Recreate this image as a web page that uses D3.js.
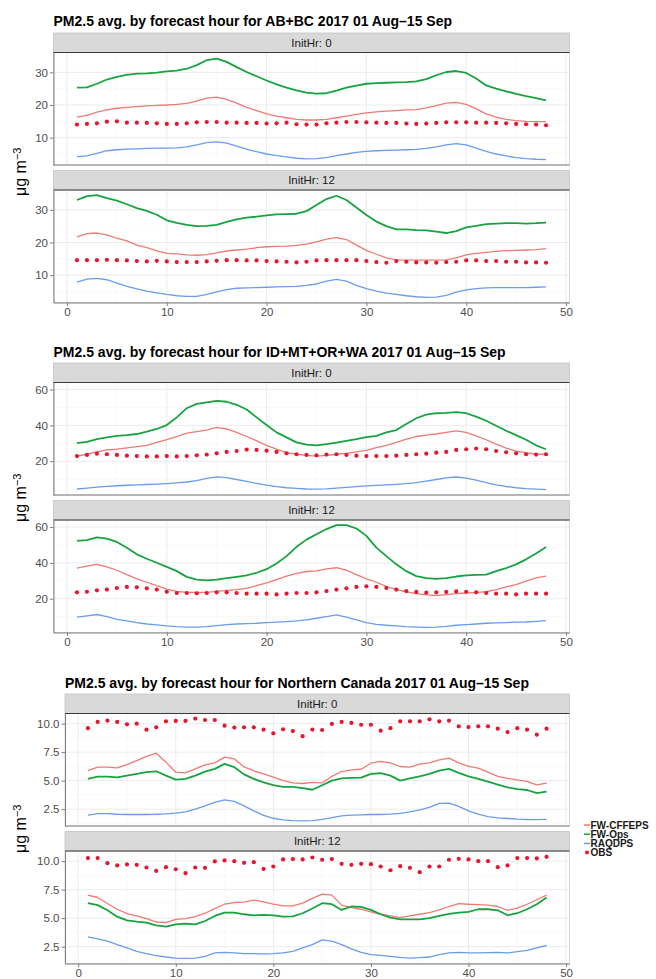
<!DOCTYPE html>
<html>
<head>
<meta charset="utf-8">
<script src="https://cdn.jsdelivr.net/npm/d3@7"></script>
<style>
body { margin: 0; background: #fff; }
svg { font-family: "Liberation Sans", Arial, sans-serif; }
.grid-major { stroke: #ebebeb; stroke-width: 1; }
.grid-minor { stroke: #f5f5f5; stroke-width: 0.6; }
.tick text { fill: #4d4d4d; font-size: 11.5px; }
.tick line { stroke: #7f7f7f; }
.domain { stroke: #7f7f7f; }
</style>
</head>
<body>
<svg id="chart" width="656" height="979"></svg>
<script>
var HOURS = [1,2,3,4,5,6,7,8,9,10,11,12,13,14,15,16,17,18,19,20,21,22,23,24,
             25,26,27,28,29,30,31,32,33,34,35,36,37,38,39,40,41,42,43,44,45,46,47,48];
var SERIES = ["FW-CFFEPS", "FW-Ops", "RAQDPS", "OBS"];
var COLORS = ["#f07a72", "#16a33f", "#6a9cee", "#e5162f"];
var FACET_LABELS = ["InitHr: 0", "InitHr: 12"];
var X_TICKS = [0, 10, 20, 30, 40, 50];

// AB+BC
var abbc0Cffeps = [16.3,16.8,17.8,18.5,19.0,19.3,19.5,19.7,19.9,20.0,20.2,20.5,21.2,22.1,22.4,21.7,20.6,19.3,18.3,17.3,16.6,16.1,15.6,15.4,15.4,15.6,16.1,16.6,17.1,17.6,17.9,18.1,18.3,18.5,18.6,19.1,19.8,20.6,20.8,20.2,18.8,17.3,16.3,15.6,15.2,15.0,14.9,14.9];
var abbc0Ops = [25.3,25.4,26.5,27.8,28.6,29.2,29.6,29.7,29.9,30.3,30.5,31.1,32.2,33.7,34.2,33.2,31.6,30.1,28.8,27.5,26.3,25.3,24.5,23.8,23.5,23.6,24.4,25.3,25.9,26.5,26.7,26.8,26.9,27.0,27.2,27.9,29.1,30.1,30.4,29.8,28.1,26.0,25.0,24.2,23.4,22.7,22.1,21.4];
var abbc0Raqdps = [4.2,4.4,5.2,6.0,6.3,6.5,6.6,6.7,6.8,6.8,6.9,7.2,7.8,8.5,8.7,8.3,7.4,6.5,5.7,5.0,4.5,4.1,3.7,3.5,3.6,3.9,4.5,5.0,5.5,5.8,6.0,6.1,6.2,6.3,6.4,6.7,7.2,7.8,8.2,7.8,6.8,5.8,5.0,4.4,3.9,3.6,3.4,3.3];
var abbc0Obs = [14.0,14.2,14.4,14.9,15.0,14.6,14.6,14.5,14.4,14.2,14.2,14.4,14.7,14.8,14.8,14.6,14.6,14.5,14.5,14.3,14.4,14.6,14.1,14.0,14.0,14.4,14.6,14.8,14.8,14.7,14.6,14.5,14.5,14.3,14.2,14.3,14.5,14.7,14.7,14.7,14.6,14.6,14.5,14.4,14.2,14.1,14.0,13.8];
var abbc12Cffeps = [21.7,22.7,22.9,22.3,21.3,20.5,19.2,18.4,17.4,16.7,16.5,16.2,16.1,16.3,16.8,17.4,17.7,18.0,18.4,18.7,18.8,18.9,19.1,19.5,20.2,21.0,21.5,20.9,19.2,17.6,16.4,15.3,14.7,14.6,14.6,14.6,14.6,14.7,15.3,16.2,16.7,17.0,17.3,17.5,17.6,17.7,17.8,18.1];
var abbc12Ops = [33.0,34.2,34.5,33.6,32.8,31.7,30.5,29.7,28.5,26.8,26.0,25.4,25.0,25.1,25.4,26.3,27.1,27.6,27.9,28.3,28.6,28.7,28.8,29.6,31.5,33.3,34.3,33.0,30.7,28.4,26.4,25.0,24.0,24.0,23.8,23.7,23.3,22.9,23.5,24.6,25.1,25.6,25.8,25.9,25.9,25.8,25.9,26.1];
var abbc12Raqdps = [7.9,8.8,9.0,8.6,7.6,6.6,5.8,5.1,4.6,4.1,3.7,3.5,3.5,4.1,4.9,5.6,6.0,6.1,6.2,6.3,6.4,6.5,6.6,6.9,7.3,8.2,8.7,8.2,6.9,5.9,5.1,4.5,4.1,3.7,3.4,3.2,3.3,3.8,4.8,5.5,5.9,6.1,6.2,6.2,6.2,6.2,6.3,6.4];
var abbc12Obs = [14.6,14.6,14.6,14.7,14.6,14.5,14.3,14.2,14.4,14.2,14.0,14.0,14.0,14.2,14.4,14.6,14.6,14.5,14.5,14.3,14.2,14.1,13.9,14.1,14.5,14.6,14.6,14.6,14.6,14.3,14.0,13.8,14.3,14.1,13.9,13.9,13.8,14.0,14.1,14.5,14.5,14.3,14.3,14.1,14.1,13.9,13.9,13.8];

// ID+MT+OR+WA
var usa0Cffeps = [22.9,23.9,25.2,26.3,26.7,27.4,28.2,28.9,30.5,32.0,33.8,35.7,36.5,37.4,38.9,38.0,36.1,33.8,31.4,28.9,26.7,24.8,23.9,23.3,22.9,23.3,23.9,24.4,25.2,26.1,27.6,28.9,30.5,32.3,33.8,34.6,35.2,36.1,36.9,36.1,34.2,32.0,29.5,27.3,25.7,24.8,23.9,23.9];
var usa0Ops = [30.1,30.8,32.3,33.3,34.2,34.6,35.2,36.5,38.0,40.2,44.5,49.6,52.0,52.8,53.7,53.2,51.5,48.9,44.5,40.2,36.1,33.3,30.5,29.3,28.9,29.5,30.4,31.4,32.3,33.5,34.2,36.1,37.4,40.8,44.0,46.0,46.8,47.0,47.4,46.8,44.9,42.6,39.8,37.0,34.6,32.0,28.9,26.7];
var usa0Raqdps = [4.5,5.0,5.5,6.0,6.3,6.6,6.8,7.0,7.2,7.5,7.9,8.4,9.2,10.4,11.3,10.8,9.8,8.7,7.6,6.6,5.8,5.2,4.8,4.5,4.4,4.6,5.0,5.4,5.8,6.2,6.5,6.8,7.1,7.5,8.1,8.9,9.8,10.7,11.2,10.6,9.4,8.0,6.8,5.9,5.2,4.7,4.4,4.2];
var usa0Obs = [22.9,23.5,24.2,23.9,23.5,23.1,22.9,22.7,22.7,22.9,22.7,22.9,23.3,23.7,24.4,25.2,25.7,26.5,26.3,25.9,25.2,24.4,23.9,23.5,23.3,23.7,23.9,23.5,23.1,22.9,22.9,22.9,23.1,23.5,23.9,24.2,24.8,25.2,26.3,26.7,27.1,26.7,25.7,25.0,24.4,23.9,23.7,23.9];
var usa12Cffeps = [37.1,38.2,39.2,37.8,35.9,33.5,31.1,29.2,27.3,25.4,24.1,23.6,23.6,23.6,24.1,24.7,25.1,25.8,27.3,28.8,30.7,32.6,34.1,35.2,35.6,36.7,37.3,35.9,33.5,31.1,29.2,26.9,25.1,23.9,22.8,22.1,21.7,22.3,22.8,23.2,23.6,23.9,25.1,26.6,27.9,29.8,31.6,32.6];
var usa12Ops = [52.3,52.7,54.2,53.6,51.7,48.5,44.8,42.3,40.1,37.8,35.4,32.2,30.7,30.3,30.7,31.5,32.2,33.0,34.5,36.5,39.7,43.8,49.0,53.0,56.0,58.9,61.1,61.1,59.2,55.1,48.5,43.8,39.2,35.4,32.6,31.5,31.1,31.5,32.4,33.0,33.3,33.5,35.4,37.1,39.2,42.0,45.3,48.9];
var usa12Raqdps = [9.7,10.4,11.2,10.0,8.5,7.6,6.7,5.9,5.4,4.8,4.4,4.2,4.2,4.4,5.0,5.5,5.9,6.1,6.3,6.7,6.9,7.2,7.6,8.2,9.1,10.0,11.0,9.7,8.2,6.7,5.7,5.2,4.8,4.4,4.2,4.0,4.2,4.6,5.2,5.5,5.9,6.3,6.5,6.7,6.9,7.0,7.4,7.8];
var usa12Obs = [23.6,23.9,24.7,25.1,26.0,26.6,26.4,25.8,25.1,23.9,23.2,23.2,23.0,23.2,23.6,23.6,23.2,22.8,22.8,22.8,22.4,22.8,23.2,23.2,23.6,24.3,25.1,25.8,26.6,26.9,26.6,26.0,25.1,24.3,23.8,23.4,23.6,23.8,24.1,23.9,23.6,23.2,22.8,22.8,22.4,22.8,22.8,22.8];

// Northern Canada
var north0Cffeps = [5.88,6.18,6.18,6.12,6.41,6.76,7.12,7.41,6.62,5.74,5.68,6.03,6.38,6.56,7.06,6.91,6.2,5.85,5.6,5.3,5.0,4.8,4.75,4.85,4.8,5.38,5.8,5.94,6.0,6.53,6.68,6.56,6.24,6.18,6.44,6.56,6.82,6.97,6.56,6.26,6.09,5.74,5.38,5.2,5.06,4.94,4.62,4.79];
var north0Ops = [5.15,5.35,5.35,5.29,5.44,5.59,5.74,5.82,5.44,5.09,5.15,5.44,5.79,6.03,6.47,6.18,5.55,5.15,4.85,4.6,4.45,4.45,4.35,4.2,4.6,5.0,5.2,5.24,5.26,5.59,5.65,5.44,5.0,5.2,5.38,5.59,5.88,6.03,5.68,5.38,5.15,4.91,4.65,4.41,4.26,4.18,3.91,4.03];
var north0Raqdps = [1.97,2.1,2.1,2.05,2.03,2.03,2.03,2.05,2.09,2.15,2.26,2.5,2.79,3.09,3.32,3.18,2.79,2.35,1.95,1.7,1.55,1.5,1.47,1.5,1.6,1.76,1.91,1.97,2.0,2.03,2.03,2.06,2.12,2.26,2.44,2.65,3.0,3.03,2.74,2.35,2.06,1.85,1.74,1.68,1.62,1.59,1.58,1.6];
var north0Obs = [9.6,10.15,10.26,10.15,9.94,10.0,9.47,9.68,10.2,10.24,10.24,10.44,10.32,10.32,9.82,9.65,9.68,9.68,9.47,9.15,9.5,9.35,8.9,9.48,9.44,9.97,10.15,10.06,9.9,9.9,9.38,9.6,10.2,10.2,10.2,10.38,10.2,10.26,9.76,9.7,9.76,9.76,9.56,9.26,9.6,9.47,9.03,9.56];
var north12Cffeps = [7.02,6.81,6.28,5.78,5.4,5.19,4.96,4.66,4.6,4.9,4.96,5.13,5.43,5.84,6.22,6.37,6.4,6.58,6.43,6.22,6.08,6.08,6.31,6.73,7.11,7.02,6.14,5.93,5.78,5.55,5.34,5.19,5.04,5.19,5.34,5.49,5.72,6.02,6.28,6.22,6.19,6.14,6.02,5.69,5.87,6.22,6.61,7.02];
var north12Ops = [6.31,6.14,5.69,5.13,4.81,4.69,4.6,4.37,4.25,4.45,4.51,4.45,4.75,5.19,5.49,5.49,5.34,5.25,5.28,5.25,5.13,5.16,5.43,5.84,6.31,6.22,5.72,6.02,5.99,5.72,5.34,5.04,4.9,4.9,4.9,5.01,5.19,5.37,5.49,5.55,5.78,5.78,5.69,5.25,5.43,5.78,6.22,6.81];
var north12Raqdps = [3.36,3.19,2.98,2.68,2.39,2.09,1.89,1.71,1.59,1.5,1.47,1.5,1.65,1.95,2.0,1.95,1.89,1.89,1.86,1.89,1.95,2.09,2.39,2.68,3.1,2.98,2.68,2.3,2.0,1.8,1.74,1.65,1.56,1.5,1.53,1.59,1.8,1.95,2.0,1.95,1.95,1.98,2.0,1.95,2.06,2.18,2.39,2.6];
var north12Obs = [10.27,10.27,9.82,9.62,9.71,9.68,9.44,9.14,9.47,9.29,8.94,9.44,9.41,9.97,10.06,10.0,9.85,9.91,9.32,9.53,10.15,10.18,10.15,10.32,10.12,10.18,9.76,9.68,9.76,9.73,9.53,9.2,9.56,9.41,9.03,9.53,9.53,10.12,10.2,10.15,10.0,10.0,9.47,9.62,10.27,10.27,10.24,10.38];

var PANEL_RIGHT = 569.5,
    STRIP_H = 19.5,
    PANEL_H = 112.5,
    GAP = 5.5;

var svg = d3.select("#chart");

function drawChart(cfg) {
    var g = svg.append("g");
    var all = [];
    cfg.facets.forEach(function(f) { f.forEach(function(s) { all = all.concat(s); }); });
    var yExt = d3.extent(all), yPad = (yExt[1] - yExt[0]) * 0.05;
    var xExt = d3.extent(HOURS), xPad = (xExt[1] - xExt[0]) * 0.05;

    var x = d3.scaleLinear()
        .domain([xExt[0] - xPad, xExt[1] + xPad])
        .range([cfg.left, PANEL_RIGHT]);

    g.append("text")
        .attr("x", cfg.left)
        .attr("y", cfg.top - cfg.titleGap)
        .attr("font-size", "14px")
        .attr("font-weight", "bold")
        .text(cfg.title);

    var majorY = cfg.yTicks;
    var step = majorY[1] - majorY[0];
    var minorY = [majorY[0] - step / 2].concat(majorY.map(function(t) { return t + step / 2; }));
    var minorX = X_TICKS.slice(0, -1).map(function(t) { return t + 5; });

    cfg.facets.forEach(function(series, i) {
        var stripTop = cfg.top + i * (STRIP_H + PANEL_H + GAP);
        var panelTop = stripTop + STRIP_H;
        var panelBottom = panelTop + PANEL_H;
        var y = d3.scaleLinear()
            .domain([yExt[0] - yPad, yExt[1] + yPad])
            .range([panelBottom, panelTop]);
        var dom = y.domain();

        var p = g.append("g");
        p.append("rect")
            .attr("x", cfg.left).attr("y", panelTop)
            .attr("width", PANEL_RIGHT - cfg.left).attr("height", PANEL_H)
            .attr("fill", "#fff");

        p.selectAll(".mny").data(minorY.filter(function(v) { return v > dom[0] && v < dom[1]; }))
            .enter().append("line").attr("class", "grid-minor")
            .attr("x1", cfg.left).attr("x2", PANEL_RIGHT)
            .attr("y1", function(d) { return y(d); }).attr("y2", function(d) { return y(d); });
        p.selectAll(".mnx").data(minorX)
            .enter().append("line").attr("class", "grid-minor")
            .attr("y1", panelTop).attr("y2", panelBottom)
            .attr("x1", function(d) { return x(d); }).attr("x2", function(d) { return x(d); });
        p.selectAll(".mjy").data(majorY)
            .enter().append("line").attr("class", "grid-major")
            .attr("x1", cfg.left).attr("x2", PANEL_RIGHT)
            .attr("y1", function(d) { return y(d); }).attr("y2", function(d) { return y(d); });
        p.selectAll(".mjx").data(X_TICKS)
            .enter().append("line").attr("class", "grid-major")
            .attr("y1", panelTop).attr("y2", panelBottom)
            .attr("x1", function(d) { return x(d); }).attr("x2", function(d) { return x(d); });

        // panel border
        p.append("rect")
            .attr("x", cfg.left).attr("y", panelTop)
            .attr("width", PANEL_RIGHT - cfg.left).attr("height", PANEL_H)
            .attr("fill", "none").attr("stroke", "#cfcfcf").attr("stroke-width", 0.8);

        // strip
        p.append("rect")
            .attr("x", cfg.left).attr("y", stripTop)
            .attr("width", PANEL_RIGHT - cfg.left).attr("height", STRIP_H)
            .attr("fill", "#d9d9d9").attr("stroke", "#c4c4c4").attr("stroke-width", 0.8);
        p.append("line")
            .attr("x1", cfg.left).attr("x2", PANEL_RIGHT)
            .attr("y1", panelTop).attr("y2", panelTop)
            .attr("stroke", "#3a3a3a").attr("stroke-width", 1.2);
        p.append("text")
            .attr("x", (cfg.left + PANEL_RIGHT) / 2)
            .attr("y", stripTop + STRIP_H / 2)
            .attr("dy", "0.36em")
            .attr("text-anchor", "middle")
            .attr("font-size", "11.5px")
            .attr("fill", "#1a1a1a")
            .text(FACET_LABELS[i]);

        var pts = function(arr) {
            return HOURS.map(function(h, k) { return { h: h, v: arr[k] }; });
        };
        var line = d3.line()
            .x(function(d) { return x(d.h); })
            .y(function(d) { return y(d.v); });

        [0, 1, 2].forEach(function(s) {
            p.append("path")
                .datum(pts(series[s]))
                .attr("fill", "none")
                .attr("stroke", COLORS[s])
                .attr("stroke-width", s === 1 ? 1.8 : 1.3)
                .attr("stroke-linejoin", "round")
                .attr("d", line);
        });
        p.selectAll(".obs").data(pts(series[3]))
            .enter().append("circle")
            .attr("cx", function(d) { return x(d.h); })
            .attr("cy", function(d) { return y(d.v); })
            .attr("r", 2.1)
            .attr("fill", COLORS[3]);

        var yAxis = d3.axisLeft(y)
            .tickValues(majorY)
            .tickFormat(cfg.fmt)
            .tickSize(3.5)
            .tickSizeOuter(0)
            .tickPadding(2);
        p.append("g")
            .attr("transform", "translate(" + cfg.left + ",0)")
            .call(yAxis);

        if (i === cfg.facets.length - 1) {
            var xAxis = d3.axisBottom(x)
                .tickValues(X_TICKS)
                .tickSize(3.5)
                .tickSizeOuter(0)
                .tickPadding(2);
            p.append("g")
                .attr("transform", "translate(0," + panelBottom + ")")
                .call(xAxis);
        } else {
            p.append("line")
                .attr("x1", cfg.left).attr("x2", PANEL_RIGHT)
                .attr("y1", panelBottom).attr("y2", panelBottom)
                .attr("stroke", "#7f7f7f");
        }
    });

    var mid = cfg.top + (2 * (STRIP_H + PANEL_H) + GAP) / 2 + cfg.labelShift;
    var lab = g.append("text")
        .attr("transform", "translate(26," + mid + ") rotate(-90)")
        .attr("text-anchor", "middle")
        .attr("font-size", "16px")
        .attr("fill", "#000");
    lab.append("tspan").text("\u03bcg m");
    lab.append("tspan").attr("dy", "-0.45em").attr("font-size", "11px").text("\u22123");
}

drawChart({
    title: "PM2.5 avg. by forecast hour for AB+BC 2017 01 Aug\u201315 Sep",
    top: 33, left: 53.5, labelShift: 4, titleGap: 7,
    yTicks: [10, 20, 30], fmt: d3.format("d"),
    facets: [[abbc0Cffeps, abbc0Ops, abbc0Raqdps, abbc0Obs],
             [abbc12Cffeps, abbc12Ops, abbc12Raqdps, abbc12Obs]]
});
drawChart({
    title: "PM2.5 avg. by forecast hour for ID+MT+OR+WA 2017 01 Aug\u201315 Sep",
    top: 363, left: 53.5, labelShift: 0, titleGap: 6,
    yTicks: [20, 40, 60], fmt: d3.format("d"),
    facets: [[usa0Cffeps, usa0Ops, usa0Raqdps, usa0Obs],
             [usa12Cffeps, usa12Ops, usa12Raqdps, usa12Obs]]
});
drawChart({
    title: "PM2.5 avg. by forecast hour for Northern Canada 2017 01 Aug\u201315 Sep",
    top: 694, left: 65, labelShift: 0, titleGap: 6,
    yTicks: [2.5, 5, 7.5, 10], fmt: d3.format(".1f"),
    facets: [[north0Cffeps, north0Ops, north0Raqdps, north0Obs],
             [north12Cffeps, north12Ops, north12Raqdps, north12Obs]]
});

// legend
var legend = svg.append("g").attr("transform", "translate(584,825)");
SERIES.forEach(function(name, i) {
    var row = legend.append("g").attr("transform", "translate(0," + (i * 9.2) + ")");
    if (i < 3) {
        row.append("line").attr("x1", 0).attr("x2", 6).attr("y1", 0).attr("y2", 0)
            .attr("stroke", COLORS[i]).attr("stroke-width", 1.5);
    } else {
        row.append("circle").attr("cx", 3).attr("cy", 0).attr("r", 2).attr("fill", COLORS[i]);
    }
    row.append("text").attr("x", 6.5).attr("dy", "0.36em")
        .attr("font-size", "10px").attr("font-weight", "bold").attr("fill", "#1a1a1a")
        .text(name);
});
</script>
</body>
</html>
